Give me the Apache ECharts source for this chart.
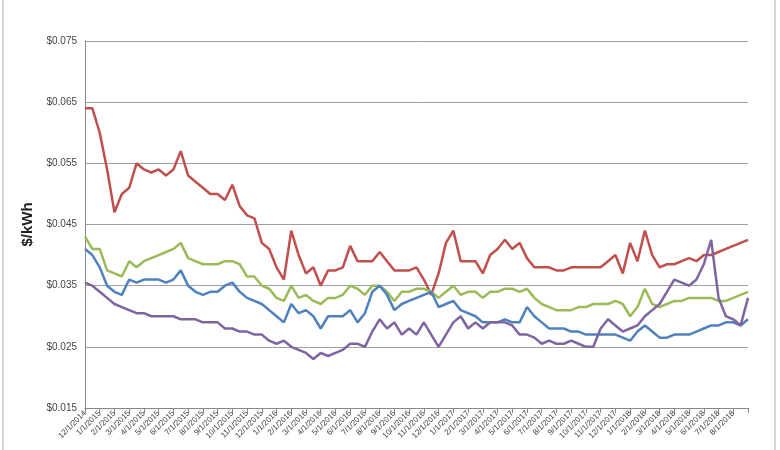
<!DOCTYPE html>
<html>
<head>
<meta charset="utf-8">
<script src="https://cdn.jsdelivr.net/npm/echarts@6/dist/echarts.min.js"></script>
<style>html,body{margin:0;padding:0;background:#fff}#box{width:780px;height:450px}</style>
</head>
<body>
<div id="box"></div>
<script>
// half-month dates, 12/1/2014 .. 8/16/2018, plus last point
var dates = [];
(function(){
    var y = 2014, m = 12;
    while (y < 2018 || (y === 2018 && m <= 8)) {
        dates.push(m + '/1/' + y);
        dates.push(m + '/16/' + y);
        m++; if (m > 12) { m = 1; y++; }
    }
    dates.push('8/25/2018');
})();

var red = [
    0.064,0.064,0.060,0.054,0.047,0.050,0.051,0.055,0.054,0.0535,0.054,0.053,0.054,0.057,0.053,0.052,
    0.051,0.050,0.050,0.049,0.0515,0.048,0.0465,0.046,0.042,0.041,0.038,0.036,0.044,0.040,0.037,0.038,
    0.035,0.0375,0.0375,0.038,0.0415,0.039,0.039,0.039,0.0405,0.039,0.0375,0.0375,0.0375,0.038,0.036,0.0335,
    0.037,0.042,0.044,0.039,0.039,0.039,0.037,0.040,0.041,0.0425,0.041,0.042,0.0395,0.038,0.038,0.038,
    0.0375,0.0375,0.038,0.038,0.038,0.038,0.038,0.039,0.040,0.037,0.042,0.039,0.044,0.040,0.038,0.0385,
    0.0385,0.039,0.0395,0.039,0.040,0.040,0.0405,0.041,0.0415,0.042,0.0425
];
var green = [
    0.043,0.041,0.041,0.0375,0.037,0.0365,0.039,0.038,0.039,0.0395,0.040,0.0405,0.041,0.042,0.0395,0.039,
    0.0385,0.0385,0.0385,0.039,0.039,0.0385,0.0365,0.0365,0.035,0.0345,0.033,0.0325,0.035,0.033,0.0335,0.0325,
    0.032,0.033,0.033,0.0335,0.035,0.0345,0.0335,0.035,0.035,0.034,0.0325,0.034,0.034,0.0345,0.0345,0.034,
    0.033,0.034,0.035,0.0335,0.034,0.034,0.033,0.034,0.034,0.0345,0.0345,0.034,0.0345,0.033,0.032,0.0315,
    0.031,0.031,0.031,0.0315,0.0315,0.032,0.032,0.032,0.0325,0.032,0.030,0.0315,0.0345,0.032,0.0315,0.032,
    0.0325,0.0325,0.033,0.033,0.033,0.033,0.0325,0.0325,0.033,0.0335,0.034
];
var blue = [
    0.041,0.040,0.038,0.035,0.034,0.0335,0.036,0.0355,0.036,0.036,0.036,0.0355,0.036,0.0375,0.035,0.034,
    0.0335,0.034,0.034,0.035,0.0355,0.034,0.033,0.0325,0.032,0.031,0.030,0.029,0.032,0.0305,0.031,0.030,
    0.028,0.030,0.030,0.030,0.031,0.029,0.0305,0.034,0.035,0.0335,0.031,0.032,0.0325,0.033,0.0335,0.034,
    0.0315,0.032,0.0325,0.031,0.0305,0.030,0.029,0.029,0.029,0.0295,0.029,0.029,0.0315,0.030,0.029,0.028,
    0.028,0.028,0.0275,0.0275,0.027,0.027,0.027,0.027,0.027,0.0265,0.026,0.0275,0.0285,0.0275,0.0265,0.0265,
    0.027,0.027,0.027,0.0275,0.028,0.0285,0.0285,0.029,0.029,0.0285,0.0295
];
var purple = [
    0.0355,0.035,0.034,0.033,0.032,0.0315,0.031,0.0305,0.0305,0.030,0.030,0.030,0.030,0.0295,0.0295,0.0295,
    0.029,0.029,0.029,0.028,0.028,0.0275,0.0275,0.027,0.027,0.026,0.0255,0.026,0.025,0.0245,0.024,0.023,
    0.024,0.0235,0.024,0.0245,0.0255,0.0255,0.025,0.0275,0.0295,0.028,0.029,0.027,0.028,0.027,0.029,0.027,
    0.025,0.027,0.029,0.030,0.028,0.029,0.028,0.029,0.029,0.029,0.0285,0.027,0.027,0.0265,0.0255,0.026,
    0.0255,0.0255,0.026,0.0255,0.025,0.025,0.028,0.0295,0.0285,0.0275,0.028,0.0285,0.030,0.031,0.032,0.034,
    0.036,0.0355,0.035,0.036,0.0385,0.0425,0.033,0.030,0.0295,0.0285,0.033
];

var myChart = echarts.init(document.getElementById('box'));
function line(data, color){
    return {type:'line', data:data, symbol:'none', lineStyle:{color:color, width:2.5}, itemStyle:{color:color}};
}
var option = {
    animation:false,
    grid:{left:85, right:32, top:41, bottom:42},
    graphic:[{type:'rect', shape:{x:3, y:-5, width:772, height:460}, style:{fill:'none', stroke:'#c8c8c8', lineWidth:1.5}}],
    xAxis:{
        type:'category', data:dates, boundaryGap:false,
        axisLine:{lineStyle:{color:'#888'}},
        axisTick:{interval:function(i){return i%2===0;}, lineStyle:{color:'#888'}},
        axisLabel:{interval:function(i){return i%2===0 && i<90;}, rotate:45, fontSize:8, color:'#444', margin:4, fontFamily:'Liberation Sans'}
    },
    yAxis:{
        type:'value', min:0.015, max:0.075, interval:0.01,
        name:'$/kWh', nameLocation:'middle', nameGap:50,
        nameTextStyle:{fontSize:15, fontWeight:'bold', color:'#222', fontFamily:'Liberation Sans'},
        axisLine:{show:true, lineStyle:{color:'#888'}},
        axisTick:{show:false},
        splitLine:{lineStyle:{color:'#a0a0a0', width:1}},
        axisLabel:{formatter:function(v){return '$'+v.toFixed(3);}, fontSize:10, color:'#444', fontFamily:'Liberation Sans'}
    },
    series:[line(red,'#C0504D'), line(green,'#9BBB59'), line(blue,'#4F81BD'), line(purple,'#8064A2')]
};
myChart.setOption(option);
</script>
</body>
</html>
